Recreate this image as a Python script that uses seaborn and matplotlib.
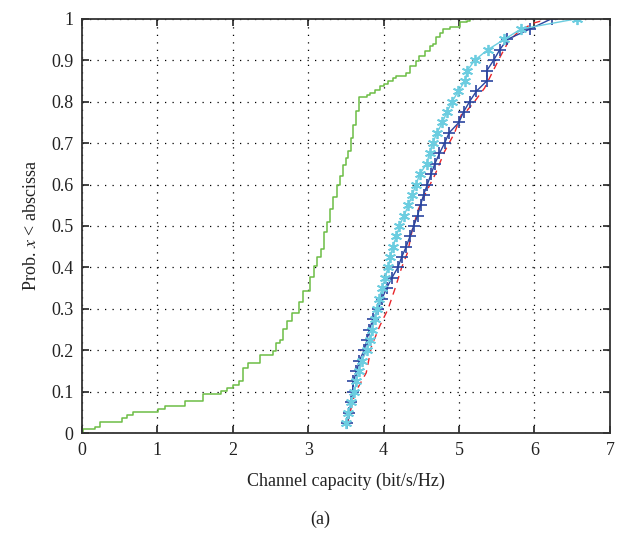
import numpy as np
import pandas as pd
import matplotlib
matplotlib.use("Agg")
import matplotlib.pyplot as plt
import seaborn as sns

# empirical CDF (green, step)
green_x = [0.0, 0.02, 0.17, 0.24, 0.53, 0.6, 0.68, 1.01, 1.1, 1.37,
           1.6, 1.85, 1.92, 2.0, 2.08, 2.14, 2.2, 2.36, 2.53, 2.57,
           2.62, 2.67, 2.72, 2.78, 2.88, 2.93, 3.02, 3.08, 3.12, 3.17,
           3.21, 3.25, 3.29, 3.33, 3.38, 3.42, 3.46, 3.5, 3.53, 3.57,
           3.6, 3.64, 3.68, 3.73, 3.78, 3.82, 3.88, 3.95, 4.0, 4.06,
           4.12, 4.17, 4.3, 4.35, 4.43, 4.47, 4.55, 4.61, 4.66, 4.7,
           4.75, 4.79, 4.88, 5.01, 5.1, 5.14]
green_y = [0.0, 0.01, 0.016, 0.028, 0.036, 0.044, 0.052, 0.058, 0.066, 0.078,
           0.095, 0.101, 0.109, 0.117, 0.125, 0.158, 0.17, 0.19, 0.198, 0.218,
           0.226, 0.251, 0.27, 0.291, 0.316, 0.344, 0.376, 0.404, 0.425, 0.445,
           0.485, 0.51, 0.542, 0.57, 0.599, 0.62, 0.647, 0.665, 0.68, 0.712,
           0.744, 0.777, 0.81, 0.812, 0.815, 0.82, 0.828, 0.837, 0.843, 0.85,
           0.856, 0.862, 0.87, 0.885, 0.898, 0.91, 0.922, 0.934, 0.94, 0.955,
           0.965, 0.975, 0.98, 0.991, 0.995, 1.0]

# probability levels for the marked curves
levels = [0.025, 0.05, 0.075, 0.1, 0.125, 0.15, 0.175, 0.2, 0.225, 0.25,
          0.275, 0.3, 0.325, 0.35, 0.375, 0.4, 0.425, 0.45, 0.475, 0.5,
          0.525, 0.55, 0.575, 0.6, 0.625, 0.65, 0.675, 0.7, 0.725, 0.75,
          0.775, 0.8, 0.825, 0.85, 0.875, 0.9, 0.925, 0.95, 0.975, 1.0]

blue_x = [3.52, 3.54, 3.57, 3.59, 3.60, 3.64, 3.68, 3.74, 3.78, 3.81,
          3.86, 3.93, 3.98, 4.04, 4.11, 4.19, 4.24, 4.30, 4.35, 4.40,
          4.45, 4.49, 4.53, 4.58, 4.63, 4.68, 4.74, 4.81, 4.87, 5.00,
          5.06, 5.14, 5.23, 5.37, 5.37, 5.46, 5.54, 5.64, 5.94, 6.23]

cyan_x = [3.50, 3.53, 3.57, 3.61, 3.64, 3.67, 3.71, 3.78, 3.82, 3.85,
          3.88, 3.91, 3.94, 3.98, 4.02, 4.06, 4.09, 4.12, 4.17, 4.21,
          4.27, 4.33, 4.38, 4.43, 4.48, 4.57, 4.61, 4.65, 4.71, 4.78,
          4.84, 4.91, 4.99, 5.08, 5.11, 5.21, 5.38, 5.60, 5.82, 6.57]

red_x = [3.52, 3.62, 3.77, 3.84, 3.95, 4.06, 4.15, 4.24, 4.32, 4.38,
         4.46, 4.56, 4.68, 4.81, 4.94, 5.03, 5.10, 5.21, 5.34, 5.43,
         5.54, 5.65, 5.80, 6.00, 6.20]
red_y = [0.024, 0.097, 0.146, 0.21, 0.259, 0.3, 0.348, 0.4, 0.437, 0.49,
         0.54, 0.58, 0.623, 0.68, 0.724, 0.768, 0.777, 0.801, 0.833, 0.866,
         0.906, 0.943, 0.971, 0.99, 1.0]

sns.set_style("ticks")
plt.rcParams["font.family"] = ["Liberation Serif", "DejaVu Serif"]
plt.rcParams["mathtext.fontset"] = "stix"

fig = plt.figure(figsize=(6.3, 5.46), dpi=100)
ax = fig.add_axes([0.13, 0.2064, 0.838, 0.7594])

sns.lineplot(x=green_x, y=green_y, ax=ax, color="#6cbd45", lw=1.1,
             drawstyle="steps-post", sort=False, estimator=None)
sns.lineplot(x=red_x, y=red_y, ax=ax, color="#e8262b", lw=1.0,
             sort=False, estimator=None, linestyle=(0, (5, 4)))
sns.lineplot(x=blue_x, y=levels, ax=ax, color="#2b45a0", lw=1.0,
             marker="+", markersize=9, markeredgewidth=1.2,
             markeredgecolor="#2b45a0", sort=False, estimator=None)
sns.lineplot(x=cyan_x, y=levels, ax=ax, color="#6ccde0", lw=1.0,
             marker=(6, 2, 0), markersize=8, markeredgewidth=1.3,
             markeredgecolor="#6ccde0", sort=False, estimator=None)

ax.set_xlim(0, 7)
ax.set_ylim(0, 1)
ax.set_xticks(range(8))
ax.set_yticks(np.round(np.arange(0, 1.01, 0.1), 1))
ax.set_yticklabels(["0", "0.1", "0.2", "0.3", "0.4", "0.5", "0.6", "0.7", "0.8", "0.9", "1"])
ax.grid(True, linestyle=(0, (1, 5)), color="black", lw=0.9)
ax.tick_params(direction="in", top=True, right=True, length=5, width=1.2,
               labelsize=13, colors="#222222", pad=6)
for s in ax.spines.values():
    s.set_linewidth(1.3)
    s.set_color("#333333")

ax.set_xlabel("Channel capacity (bit/s/Hz)", fontsize=13, color="#222222", labelpad=10)
ax.set_ylabel("Prob. $x$ < abscissa", fontsize=13, color="#222222", labelpad=8)
fig.text(0.508, 0.048, "(a)", ha="center", va="center", fontsize=13, color="#222222")

fig.savefig("out.png", dpi=100)
